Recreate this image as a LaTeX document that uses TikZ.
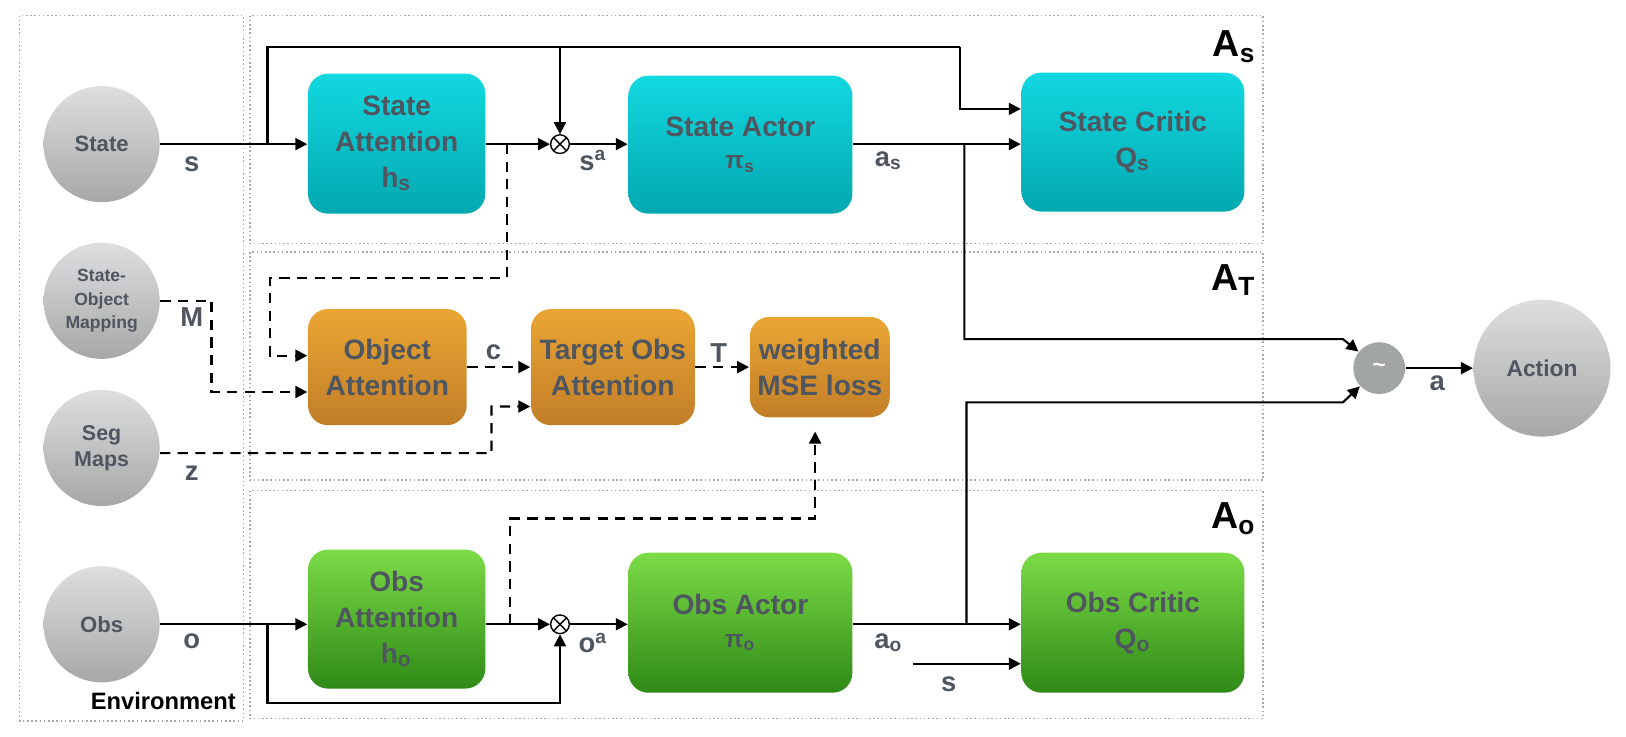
\documentclass[tikz,border=0pt]{standalone}
\usepackage{fontspec}
\setmainfont{Liberation Sans}
\usetikzlibrary{arrows.meta,calc}
\definecolor{cyT}{HTML}{12D8E0}
\definecolor{cyB}{HTML}{02A8B0}
\definecolor{orT}{HTML}{EAA634}
\definecolor{orB}{HTML}{C27E27}
\definecolor{grT}{HTML}{7CDB47}
\definecolor{grB}{HTML}{2E8A16}
\definecolor{ciT}{HTML}{DDDEE0}
\definecolor{ciB}{HTML}{A6A8A7}
\definecolor{tilc}{HTML}{A1A5A4}
\definecolor{txt}{HTML}{4F5660}
\definecolor{dotc}{HTML}{A8A8A8}
\newdimen\pxu
\pxu=0.01037cm
\begin{document}
\begin{tikzpicture}[x=0.01037cm,y=-0.01037cm,
  every node/.style={inner sep=0pt},
  region/.style={draw=dotc, line width=0.45pt, dash pattern=on 0.45pt off 0.75pt},
  boxbase/.style={rounded corners=0.2cm, align=center, text=txt,
     font=\bfseries\fontsize{8}{10.2}\selectfont},
  cbox/.style={boxbase, top color=cyT, bottom color=cyB},
  obox/.style={boxbase, top color=orT, bottom color=orB},
  gbox/.style={boxbase, top color=grT, bottom color=grB},
  envc/.style={circle, top color=ciT, bottom color=ciB, minimum size=112*\pxu, align=center, text=txt, font=\bfseries\fontsize{6.3}{7.5}\selectfont},
  mul/.style={circle, draw=black, fill=white, line width=0.4pt, minimum size=18*\pxu,
     path picture={\draw[line width=0.4pt] (path picture bounding box.north west) -- (path picture bounding box.south east)
        (path picture bounding box.north east) -- (path picture bounding box.south west);}},
  lbl/.style={text=txt, font=\bfseries\fontsize{7.8}{8.5}\selectfont},
  alabel/.style={text=black, font=\bfseries\fontsize{10.7}{12}\selectfont},
  arr/.style={line width=0.6pt, -{Triangle[length=3.4pt,width=3.4pt]}},
  plain/.style={line width=0.6pt},
  darr/.style={arr, dash pattern=on 2.9pt off 2.1pt}
]
\useasboundingbox (0,0) rectangle (1568,710);
% regions
\draw[region] (19,15) rectangle (235,695);
\draw[region] (241,15) rectangle (1218,235);
\draw[region] (241,243) rectangle (1218,463);
\draw[region] (241,473) rectangle (1218,693);
\node[alabel, anchor=east] (lAs) at (1212,45) {A\textsubscript{s}};
\node[alabel, anchor=east] (lAt) at (1212,270) {A\textsubscript{T}};
\node[alabel, anchor=east] (lAo) at (1212,500) {A\textsubscript{o}};
\node[font=\bfseries\fontsize{6.75}{7.5}\selectfont, anchor=east] (lEnv) at (228,676) {Environment};
% environment circles
\node[envc] (state) at (98,139) {State};
\node[envc, font=\bfseries\fontsize{5.0}{6.7}\selectfont] (som) at (98,290) {State-\\Object\\Mapping};
\node[envc, font=\bfseries\fontsize{6.1}{7.5}\selectfont] (seg) at (98,432) {Seg\\Maps};
\node[envc] (obs) at (98,602) {Obs};
\node[envc, minimum size=132*\pxu, font=\bfseries\fontsize{6.5}{7.5}\selectfont] (action) at (1487,355) {Action};
\node[circle, fill=tilc, minimum size=50*\pxu, text=white, font=\bfseries\fontsize{6.4}{7}\selectfont] (tilde) at (1330,355) {\textasciitilde};
% boxes
\node[cbox, minimum width=171*\pxu, minimum height=135*\pxu] (stAtt) at (382.5,138.5) {State\\Attention\\h\textsubscript{s}};
\node[cbox, minimum width=216*\pxu, minimum height=133*\pxu] (stAct) at (714,139.5) {State Actor\\[-1pt]{\fontsize{7}{7.5}\selectfont π\textsubscript{s}}};
\node[cbox, minimum width=215*\pxu, minimum height=134*\pxu] (stCrit) at (1092.5,137) {State Critic\\Q\textsubscript{s}};
\node[obox, minimum width=153*\pxu, minimum height=112*\pxu] (objAtt) at (373.5,354) {Object\\Attention};
\node[obox, minimum width=158*\pxu, minimum height=112*\pxu] (tgtAtt) at (591,354) {Target Obs\\Attention};
\node[obox, minimum width=135*\pxu, minimum height=97*\pxu] (mse) at (790.5,354) {weighted\\MSE loss};
\node[gbox, minimum width=171*\pxu, minimum height=134*\pxu] (obsAtt) at (382.5,597) {Obs\\Attention\\h\textsubscript{o}};
\node[gbox, minimum width=216*\pxu, minimum height=135*\pxu] (obsAct) at (714,600.5) {Obs Actor\\[-1pt]{\fontsize{7}{7.5}\selectfont π\textsubscript{o}}};
\node[gbox, minimum width=215*\pxu, minimum height=135*\pxu] (obsCrit) at (1092.5,600.5) {Obs Critic\\Q\textsubscript{o}};
\node[mul] (mulS) at (540,139) {};
\node[mul] (mulO) at (540,602) {};
% state row
\coordinate (bS) at (258,139);
\coordinate (topL) at (258,45);
\coordinate (topM) at (540,45);
\coordinate (topR) at (926,45);
\coordinate (critIn1) at ($(stCrit.west)+(0,-32)$);
\draw[arr] (state) -- (stAtt.west |- state);
\draw[plain] (bS) -- (topL) -- (topR);
\draw[arr] (topR) |- (critIn1);
\draw[arr] (topM) -- (mulS);
\draw[arr] (stAtt.east |- mulS) -- (mulS);
\draw[arr] (mulS) -- (stAct.west |- mulS);
\draw[arr] (stAct.east |- mulS) -- (stCrit.west |- mulS);
\coordinate (bA) at (930,139);
\coordinate (j1) at (1295,327);
\draw[arr] (bA) |- (j1) -- (tilde);
% obs row
\draw[arr] (obs) -- (obsAtt.west |- obs);
\coordinate (bO) at (258,602);
\coordinate (bO2) at (258,678);
\draw[arr] (bO) -- (bO2) -| (mulO);
\draw[arr] (obsAtt.east |- mulO) -- (mulO);
\draw[arr] (mulO) -- (obsAct.west |- mulO);
\draw[arr] (obsAct.east |- mulO) -- (obsCrit.west |- mulO);
\coordinate (bA2) at (932,602);
\coordinate (j2) at (1295,388);
\draw[arr] (bA2) |- (j2) -- (tilde);
\coordinate (sIn) at (880,640);
\draw[arr] (sIn) -- (obsCrit.west |- sIn);
\draw[arr] (tilde) -- (action);
% dashed
\coordinate (dS) at (489,139);
\coordinate (dS2) at (260,268);
\draw[darr] (dS) |- (dS2) |- ($(objAtt.west)+(0,-11)$);
\coordinate (mB) at (204,290);
\draw[darr] (som.east) -- (mB) |- ($(objAtt.west)+(0,24)$);
\coordinate (zB) at (474,437);
\draw[darr] (seg.-5) -- (zB) |- ($(tgtAtt.west)+(0,38)$);
\draw[darr] (objAtt) -- (tgtAtt);
\draw[darr] (tgtAtt) -- (mse);
\coordinate (dO) at (492,602);
\coordinate (dO2) at (786,500);
\coordinate (mseB) at ($(mse.south)+(0,13)$);
\draw[darr] (dO) |- (dO2) -- (dO2 |- mseB);
% labels
\node[lbl] (ls) at (185,158) {s};
\node[lbl] (lsa) at (572,155) {s\textsuperscript{a}};
\node[lbl] (las) at (857,155) {a\textsubscript{s}};
\node[lbl] (lM) at (185,306) {M};
\node[lbl] (lz) at (185,456) {z};
\node[lbl] (lc) at (476,340) {c};
\node[lbl] (lT) at (693,340) {T};
\node[lbl] (lo) at (185,618) {o};
\node[lbl] (loa) at (572,620) {o\textsuperscript{a}};
\node[lbl] (lao) at (857,620) {a\textsubscript{o}};
\node[lbl] (ls2) at (915,660) {s};
\node[lbl] (la) at (1386,370) {a};
\end{tikzpicture}
\end{document}
